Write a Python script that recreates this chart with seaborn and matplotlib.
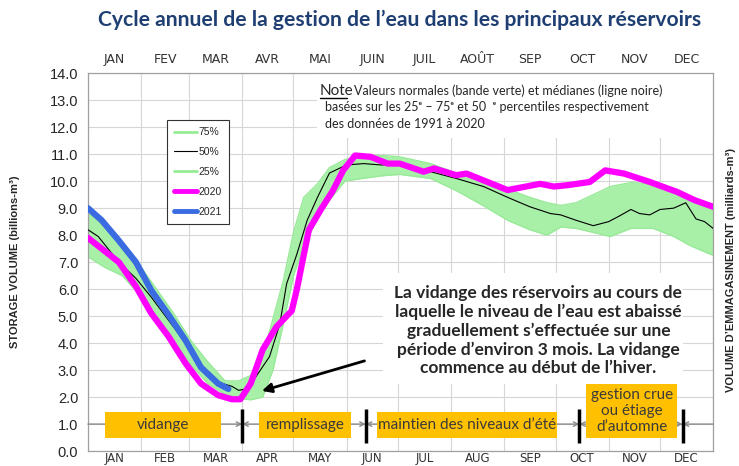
import pandas as pd
import matplotlib.pyplot as plt
import seaborn as sns
from matplotlib.patches import Rectangle
from matplotlib.lines import Line2D

# Données (jour de l'année -> volume en milliards de m3)
band_days = [0, 10, 20, 30, 40, 50, 60, 70, 80, 88, 95, 102, 108, 114, 120, 126, 134, 141, 150,
             160, 172, 182, 200, 215, 232, 245, 258, 268, 276, 285, 295, 305, 317, 330, 342, 352, 365]
p75 = [8.8, 8.4, 7.6, 6.9, 6.0, 5.1, 4.1, 3.3, 2.6, 2.6, 2.8, 3.5, 4.9, 6.3, 8.1, 9.4, 9.9, 10.5, 10.8,
       10.95, 10.95, 10.9, 10.65, 10.3, 10.0, 9.7, 9.4, 9.2, 9.1, 9.2, 9.5, 9.8, 9.95, 9.9, 9.65, 9.35, 9.1]
p25 = [7.2, 6.8, 6.5, 5.8, 5.0, 4.1, 3.2, 2.5, 2.1, 1.95, 1.9, 2.0, 3.0, 4.7, 6.5, 7.6, 8.6, 9.3, 10.0,
       10.1, 10.2, 10.25, 10.1, 9.65, 9.05, 8.55, 8.2, 8.0, 8.3, 8.25, 8.1, 7.95, 8.25, 8.25, 7.95, 7.6, 7.25]

med_days = [0, 6, 18, 28, 37, 47, 57, 66, 76, 84, 88, 92, 98, 106, 112, 116, 122, 128, 134, 141, 151,
            161, 171, 182, 200, 215, 231, 245, 258, 270, 276, 285, 295, 304, 310, 317, 322, 328, 334,
            342, 349, 355, 360, 365]
med = [8.2, 7.95, 7.0, 6.4, 5.7, 4.85, 4.0, 3.1, 2.55, 2.4, 2.25, 2.3, 2.75, 3.5, 4.7, 6.2, 7.3, 8.55,
       9.4, 10.3, 10.6, 10.65, 10.6, 10.6, 10.35, 10.1, 9.8, 9.4, 9.05, 8.8, 8.75, 8.55, 8.35, 8.5, 8.7,
       8.95, 8.8, 8.75, 8.95, 9.0, 9.2, 8.6, 8.5, 8.25]

days_2020 = [0, 8, 18, 28, 37, 47, 57, 66, 76, 84, 89, 95, 102, 110, 119, 122, 125, 129, 136, 143, 149,
             156, 165, 175, 182, 196, 202, 215, 221, 245, 264, 272, 280, 293, 302, 313, 328, 344, 354, 365]
vol_2020 = [7.9, 7.5, 7.0, 6.1, 5.1, 4.25, 3.25, 2.5, 2.07, 1.92, 1.92, 2.5, 3.75, 4.6, 5.2, 6.0, 6.95,
            8.2, 8.95, 9.65, 10.4, 10.95, 10.9, 10.65, 10.65, 10.35, 10.47, 10.22, 10.28, 9.67, 9.9, 9.8,
            9.85, 9.97, 10.4, 10.28, 9.97, 9.6, 9.3, 9.05]

days_2021 = [0, 8, 18, 28, 37, 47, 57, 66, 76, 82]
vol_2021 = [9.0, 8.55, 7.8, 7.0, 5.95, 5.05, 4.1, 3.1, 2.5, 2.3]

month_starts = [0, 31, 59, 90, 120, 151, 181, 212, 243, 273, 304, 334, 365]
mois = ["JAN", "FEV", "MAR", "AVR", "MAI", "JUIN", "JUIL", "AOÛT", "SEP", "OCT", "NOV", "DEC"]
months = ["JAN", "FEB", "MAR", "APR", "MAY", "JUN", "JUL", "AUG", "SEP", "OCT", "NOV", "DEC"]

phases = ["vidange", "remplissage", "maintien des niveaux d’été", "gestion crue\nou étiage\nd’automne"]
phase_start = [9.7, 99.9, 168.6, 290.9]
phase_end = [77.5, 153.4, 273.7, 343.9]
phase_top = [1.46, 1.46, 1.46, 2.48]
phase_bars = [90.1, 162.2, 286.9, 347.2]

sns.set_style("white")
plt.rcParams["font.family"] = ["Liberation Sans", "DejaVu Sans"]
txt_font = ["Lato", "DejaVu Sans"]
narrow = ["Liberation Sans Narrow", "DejaVu Sans"]

fig = plt.figure(figsize=(7.39, 4.66), dpi=100)
ax = fig.add_axes([0.119, 0.032, 0.846, 0.811])

# bande normale + courbes
ax.fill_between(band_days, p25, p75, color="#a8f0a8", lw=0, zorder=2)
ax.plot(band_days, p75, color="#98ea98", lw=1, zorder=2)
ax.plot(band_days, p25, color="#98ea98", lw=1, zorder=2)
sns.lineplot(x=med_days, y=med, color="black", lw=0.8, ax=ax, zorder=3)
sns.lineplot(x=days_2020, y=vol_2020, color="#ff00ff", lw=4.5, ax=ax, zorder=4,
             solid_capstyle="round")
sns.lineplot(x=days_2021, y=vol_2021, color="#3b6be0", lw=4.5, ax=ax, zorder=5,
             solid_capstyle="round")

ax.set_xlim(0, 365)
ax.set_ylim(0, 14)
ax.set_xlabel("")
ax.set_ylabel("")

mid = [(a + b) / 2 for a, b in zip(month_starts[:-1], month_starts[1:])]
ax.set_xticks(month_starts)
ax.set_xticklabels([])
ax.set_xticks(mid, minor=True)
ax.set_xticklabels(months, minor=True, family=narrow, fontsize=8.5, color="#333333")
ax.tick_params(axis="x", which="both", length=0, pad=1)
ax.set_yticks(range(0, 15))
ax.set_yticklabels([f"{v:.1f}" for v in range(0, 15)], fontsize=10.5)
ax.tick_params(axis="y", direction="out", length=4, color="#999999", pad=3)
ax.grid(True, which="major", color="#d6d6d6", lw=0.8)
ax.set_axisbelow(True)
for s in ax.spines.values():
    s.set_color("#a0a0a0")
    s.set_linewidth(0.9)

top = ax.secondary_xaxis("top")
top.set_xticks(mid)
top.set_xticklabels(mois, family=narrow, fontsize=9, color="#333333")
top.tick_params(length=0, pad=5)
top.spines["top"].set_visible(False)

# cadres blancs sous les textes
ax.add_patch(Rectangle((134, 11.6), 232, 2.4, fc="white", ec="none", zorder=1))
ax.add_patch(Rectangle((172, 2.5), 175.5, 4.1, fc="white", ec="none", zorder=1))

# légende
handles = [Line2D([], [], color="#98ec98", lw=2), Line2D([], [], color="black", lw=0.8),
           Line2D([], [], color="#98ec98", lw=2), Line2D([], [], color="#ff00ff", lw=3.5),
           Line2D([], [], color="#3b6be0", lw=3.5)]
leg = ax.legend(handles, ["75%", "50%", "25%", "2020", "2021"], loc="upper left",
                bbox_to_anchor=(0.118, 0.89), fontsize=7.5, fancybox=False, edgecolor="#333333",
                labelspacing=0.95, handlelength=2.2, handletextpad=0.1, borderpad=0.7,
                framealpha=1)
leg.get_frame().set_linewidth(0.8)

# texte explicatif + flèche
ax.text(263, 4.46, "La vidange des réservoirs au cours de\nlaquelle le niveau de l’eau est abaissé\n"
        "graduellement s’effectuée sur une\npériode d’environ 3 mois. La vidange\n"
        "commence au début de l’hiver.", ha="center", va="center", fontsize=12.5,
        fontweight="bold", family=txt_font, linespacing=1.2, zorder=6)
ax.annotate("", xy=(100, 2.2), xytext=(163, 3.37),
            arrowprops=dict(arrowstyle="-|>", color="black", lw=2, mutation_scale=14), zorder=6)

# phases de gestion
edges = [0] + phase_bars + [365]
for i in range(len(edges) - 1):
    style = "->" if i == 0 else ("<-" if i == len(edges) - 2 else "<->")
    ax.annotate("", xy=(edges[i + 1], 1.0), xytext=(edges[i], 1.0),
                arrowprops=dict(arrowstyle=style, color="#8a8a8a", lw=1, mutation_scale=8,
                                shrinkA=0, shrinkB=0), zorder=3)
ax.vlines(phase_bars, 0.31, 1.56, color="black", lw=2.5, zorder=6)
for name, a, b, t in zip(phases, phase_start, phase_end, phase_top):
    ax.add_patch(Rectangle((a, 0.49), b - a, t - 0.49, fc="#ffc000", ec="none", zorder=5))
    ax.text((a + b) / 2, (0.49 + t) / 2, name, ha="center", va="center", fontsize=11,
            family=txt_font, color="#3a3a3a", linespacing=1.15, zorder=6)

# titres
fig.text(400 / 739, 1 - 20 / 466, "Cycle annuel de la gestion de l’eau dans les principaux réservoirs",
         ha="center", va="center", fontsize=15.2, fontweight="bold", color="#1f3f73", family=txt_font)
fig.text(15 / 739, 1 - 262 / 466, "STORAGE VOLUME (billions-m³)", rotation=90, ha="center",
         va="center", fontsize=8, fontweight="bold")
fig.text(731 / 739, 1 - 270 / 466, "VOLUME D’EMMAGASINEMENT (milliards-m³)", rotation=90,
         ha="center", va="center", fontsize=8, fontweight="bold")

# note
fig.text(320 / 739, 1 - 91 / 466, "Note", ha="left", va="center", fontsize=11, family=txt_font)
fig.add_artist(Line2D([320 / 739, 347 / 739], [1 - 98 / 466, 1 - 98 / 466], color="black", lw=1))
fig.text(354 / 739, 1 - 91 / 466, "Valeurs normales (bande verte) et médianes (ligne noire)",
         ha="left", va="center", fontsize=9, family=txt_font)
fig.text(325 / 739, 1 - 107 / 466, "basées sur les 25ᵉ – 75ᵉ et 50  ᵉ percentiles respectivement",
         ha="left", va="center", fontsize=9, family=txt_font)
fig.text(325 / 739, 1 - 124 / 466, "des données de 1991 à 2020", ha="left", va="center",
         fontsize=9, family=txt_font)

fig.savefig("out.png", dpi=100)
